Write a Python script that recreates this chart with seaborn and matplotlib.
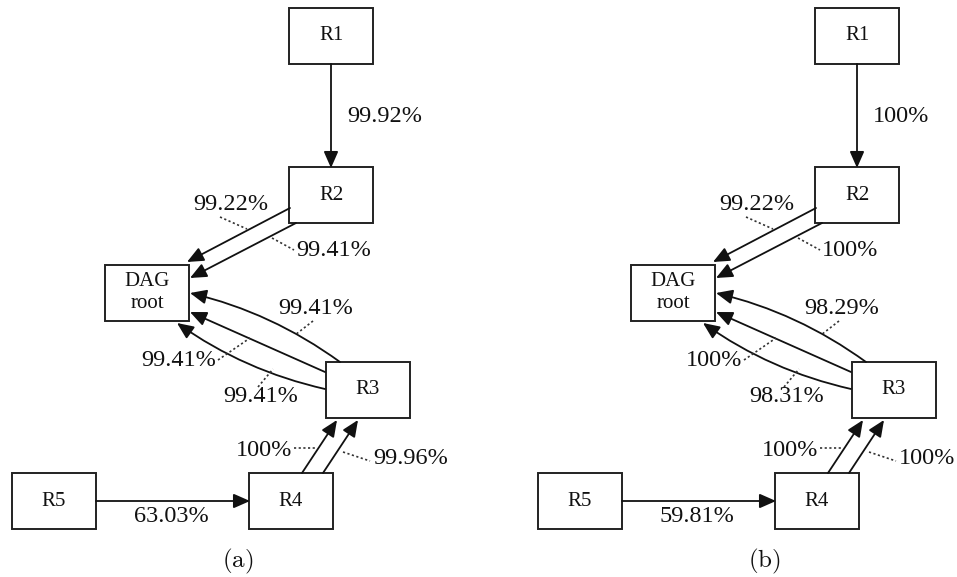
import matplotlib
matplotlib.use("Agg")
import matplotlib.pyplot as plt
from matplotlib.patches import Rectangle, FancyArrowPatch
import seaborn as sns

# node names and the link delivery ratios (%) of the two runs
nodes = ["R1", "R2", "DAG\nroot", "R3", "R4", "R5"]
links = [("R1", "R2"), ("R2", "DAG\nroot"), ("R2", "DAG\nroot"),
         ("R3", "DAG\nroot"), ("R3", "DAG\nroot"), ("R3", "DAG\nroot"),
         ("R4", "R3"), ("R4", "R3"), ("R5", "R4")]
pdr_a = [99.92, 99.22, 99.41, 99.41, 99.41, 99.41, 100, 99.96, 63.03]
pdr_b = [100, 99.22, 100, 98.29, 100, 98.31, 100, 100, 59.81]
captions = ["(a)", "(b)"]

# layout (pixel units of panel (a); panel (b) is shifted right)
PANEL_SHIFT = 526
node_xy = {"R1": (331, 36), "R2": (331, 195), "DAG\nroot": (147, 292.5),
           "R3": (368, 390), "R4": (291, 501), "R5": (54, 501)}
BOX_W, BOX_H = 84, 56
# start, end, curvature of every link
link_geom = [((331, 64), (331, 168), 0.0),
             ((290, 208), (187, 262), 0.0),
             ((296, 223), (190, 278), 0.0),
             ((340, 362), (190, 293), 0.10),
             ((325, 372), (190, 312), 0.0),
             ((325, 389), (177, 323), -0.10),
             ((302, 473), (337, 420), 0.0),
             ((323, 473), (358, 420), 0.0),
             ((96, 501), (250, 501), 0.0)]
# label anchor, alignment, leader line (or None)
label_geom = [((347, 117), "left", None),
              ((231, 205), "center", ((220, 217), (247, 229))),
              ((296, 250), "left", ((272, 238), (294, 250))),
              ((316, 309), "center", ((313, 321), (295, 335))),
              ((216, 360), "right", ((218, 360), (250, 338))),
              ((261, 397), "center", ((258, 387), (273, 369))),
              ((292, 450), "right", ((294, 448), (316, 448))),
              ((373, 458), "left", ((343, 452), (370, 461))),
              ((171, 516), "center", None)]

sns.set_theme(style="white")
SERIF = "Liberation Serif"
plt.rcParams["font.family"] = [SERIF, "DejaVu Serif"]
plt.rcParams["mathtext.fontset"] = "cm"


def fmt(v):
    return "100%" if v == 100 else f"{v:.2f}%"


def draw_panel(ax, dx, values, caption):
    for name in nodes:
        cx, cy = node_xy[name]
        ax.add_patch(Rectangle((cx - BOX_W / 2 + dx, cy - BOX_H / 2), BOX_W, BOX_H,
                               fill=False, ec="#222222", lw=1.4))
        ax.text(cx + dx, cy, name, ha="center", va="center", fontsize=15,
                family=SERIF, linespacing=1.15, color="#111111")
    for (p0, p1, rad), (pos, ha, lead), v in zip(link_geom, label_geom, values):
        arr = FancyArrowPatch((p0[0] + dx, p0[1]), (p1[0] + dx, p1[1]),
                              connectionstyle=f"arc3,rad={rad}",
                              arrowstyle="-|>,head_length=10,head_width=4.4",
                              mutation_scale=1, shrinkA=0, shrinkB=0,
                              lw=1.3, color="#111111")
        ax.add_patch(arr)
        if lead is not None:
            (a, b), (c, d) = lead
            ax.plot([a + dx, c + dx], [b, d], ls=(0, (1.3, 1.5)), lw=1.2, color="#333333")
        ax.text(pos[0] + dx, pos[1], fmt(v), ha=ha, va="center",
                fontsize=17.5, family=SERIF, color="#111111")
    ax.text(238 + dx, 561, r"$\mathrm{" + caption + "}$", ha="center", va="center",
            fontsize=18, color="#111111")


fig = plt.figure(figsize=(9.57, 5.77), dpi=100)
ax = fig.add_axes([0, 0, 1, 1])
ax.set_xlim(0, 957)
ax.set_ylim(577, 0)
ax.axis("off")

for k, vals in enumerate([pdr_a, pdr_b]):
    draw_panel(ax, k * PANEL_SHIFT, vals, captions[k])

fig.savefig("out.png", dpi=100, facecolor="white")
